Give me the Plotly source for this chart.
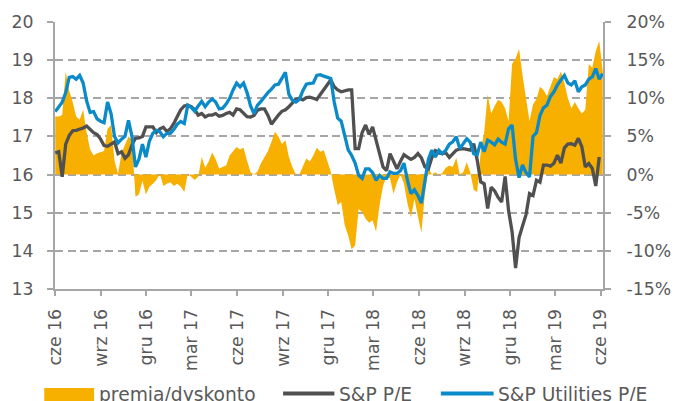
import pandas as pd
import plotly.graph_objects as go

# ---------------- data ----------------
start_date = "2016-06-01"          # weekly observations

sp_pe = [16.57, 16.6, 15.94, 16.8, 17.02, 17.15, 17.16, 17.18, 17.22, 17.27,
         17.18, 17.1, 17.05, 16.93, 16.76, 16.74, 16.8, 16.86, 16.55, 16.6,
         16.43, 16.52, 16.78, 16.95, 16.96, 17.0, 17.25, 17.26, 17.25, 17.1,
         17.2, 17.24, 17.13, 17.2, 17.34, 17.52, 17.7, 17.8, 17.82, 17.78,
         17.7, 17.56, 17.6, 17.51, 17.56, 17.56, 17.6, 17.53, 17.55, 17.6,
         17.63, 17.56, 17.72, 17.7, 17.6, 17.52, 17.51, 17.55, 17.69, 17.72,
         17.72, 17.55, 17.32, 17.45, 17.56, 17.66, 17.7, 17.78, 17.88, 17.97,
         18.0, 17.96, 18.02, 18.03, 18.0, 17.97, 18.1, 18.22, 18.34, 18.48,
         18.3, 18.22, 18.17, 18.2, 18.22, 18.22, 16.68, 16.68, 17.1, 17.3,
         17.05, 17.25, 16.92, 16.55, 16.2, 16.1, 16.55, 16.35, 16.15, 16.35,
         16.52, 16.46, 16.4, 16.45, 16.55, 16.44, 16.2, 16.15, 16.45, 16.63,
         16.57, 16.55, 16.57, 16.45, 16.55, 16.64, 16.67, 16.68, 16.66, 16.64,
         16.81, 16.38, 15.81, 15.76, 15.11, 15.67, 15.57, 15.4, 15.28, 15.95,
         15.05, 14.5, 13.55, 14.35, 14.65, 14.95, 15.5, 15.45, 15.85, 15.8,
         16.25, 16.25, 16.22, 16.3, 16.51, 16.3, 16.7, 16.8, 16.81, 16.77,
         16.95, 16.73, 16.2, 16.29, 16.16, 15.7, 16.46]

utilities_pe = [17.65, 17.76, 17.9, 18.15, 18.55, 18.57, 18.5, 18.6, 18.4, 17.93,
                17.63, 17.65, 17.46, 17.4, 17.36, 17.9, 17.6, 17.0, 16.83, 16.93,
                17.0, 17.42, 17.0, 16.2, 16.4, 16.8, 16.46, 16.88, 17.08, 17.16,
                17.12, 16.99, 17.08, 17.08, 17.18, 17.32, 17.39, 17.34, 17.82, 17.76,
                17.66, 17.8, 17.92, 17.78, 17.9, 17.98, 17.9, 17.72, 17.74, 17.85,
                18.0, 18.22, 18.4, 18.3, 18.4, 18.15, 17.8, 17.6, 17.82, 17.92,
                18.05, 18.15, 18.24, 18.35, 18.37, 18.52, 18.68, 18.1, 17.95, 17.9,
                17.97, 18.2, 18.37, 18.39, 18.4, 18.6, 18.62, 18.58, 18.56, 18.52,
                17.9, 17.48, 17.4, 17.0, 16.65, 16.5, 16.3, 15.98, 15.9, 16.15,
                16.15, 16.05, 15.85, 15.98, 15.9, 15.9, 16.07, 16.03, 16.03, 16.1,
                16.3, 15.85, 15.5, 15.6, 15.45, 15.25, 15.9, 16.4, 16.64, 16.46,
                16.64, 16.55, 16.64, 16.8, 16.86, 16.99, 16.68, 16.81, 16.94, 16.85,
                16.55, 16.52, 16.85, 16.6, 16.9, 16.85, 16.78, 16.93, 16.85, 16.8,
                17.2, 17.3, 16.4, 15.92, 16.25, 16.05, 15.94, 17.0, 17.1, 17.55,
                17.75, 17.82, 18.05, 18.17, 18.35, 18.48, 18.6, 18.4, 18.35, 18.46,
                18.17, 18.3, 18.35, 18.5, 18.56, 18.78, 18.5, 18.65]

premium_pct = [7.6, 7.6, 7.8, 13.5, 11.0, 9.5, 7.6, 7.2, 8.5, 5.5,
               3.3, 2.5, 2.8, 3.0, 3.1, 6.0, 6.5, 1.8, 0.1, 2.8,
               4.0, 5.0, 4.5, -2.9, -2.6, -0.8, -2.6, -1.6, -1.2, -0.7,
               0.1, -1.5, -1.2, -1.0, -1.5, -1.2, -1.6, -2.3, 0.1, -0.3,
               -0.7, -0.3, 2.3, 0.9, 1.7, 2.9, 2.0, 0.8, 1.0, 1.2,
               2.5, 3.1, 3.6, 3.3, 3.5, 1.8, 0.3, 0.0, 0.4, 1.5,
               2.4, 3.1, 4.3, 5.6, 5.0, 4.0, 4.5, 2.3, 1.0, 0.0,
               0.0, 1.0, 2.1, 1.7, 2.5, 3.5, 3.0, 3.2, 1.8, 0.4,
               -2.0, -4.0, -3.6, -6.6, -8.0, -9.8, -9.3, -4.5, -4.9, -5.8,
               -6.3, -6.0, -7.5, -4.0, -1.5, -0.2, -0.5, -2.5, -1.0, 0.0,
               -1.2, -3.8, -5.6, -3.2, -5.5, -7.6, -2.5, 0.9, 0.0, 0.3,
               -0.1, 0.2, 0.9, 1.2, 1.0, 2.2, 0.0, 0.3, 1.6, 0.3,
               -2.0, -2.3, 3.0, 5.5, 10.5, 8.0, 9.0, 9.8, 9.5, 8.7,
               7.0, 14.5, 15.2, 16.5, 13.0, 10.0, 7.0, 9.2, 9.9, 11.5,
               11.1, 10.3, 11.5, 12.8, 12.5, 13.5, 12.0, 10.0, 8.7, 9.5,
               8.7, 8.0, 8.5, 14.5, 14.0, 16.2, 17.5, 13.5]

x_tick_dates = ["2016-06-01", "2016-09-01", "2016-12-01", "2017-03-01", "2017-06-01",
                "2017-09-01", "2017-12-01", "2018-03-01", "2018-06-01", "2018-09-01",
                "2018-12-01", "2019-03-01", "2019-06-01"]
x_tick_labels = ["cze 16", "wrz 16", "gru 16", "mar 17", "cze 17", "wrz 17", "gru 17",
                 "mar 18", "cze 18", "wrz 18", "gru 18", "mar 19", "cze 19"]

left_ticks = [13, 14, 15, 16, 17, 18, 19, 20]
right_ticks = [-15, -10, -5, 0, 5, 10, 15, 20]
right_tick_labels = ["-15%", "-10%", "-5%", "0%", "5%", "10%", "15%", "20%"]

legend_names = ["premia/dyskonto", "S&P P/E", "S&P Utilities P/E"]

# ---------------- figure ----------------
dates = pd.date_range(start_date, periods=len(utilities_pe), freq="7D")

C_ORANGE = "#F8B000"
C_GREY = "#505050"
C_BLUE = "#0A8AC9"
C_AXIS = "#A6A6A6"
C_TEXT = "#595959"
FONT = "DejaVu Sans"

fig = go.Figure()
fig.add_trace(go.Scatter(x=dates[:len(premium_pct)], y=premium_pct, name=legend_names[0],
                         mode="lines", line=dict(width=0, color=C_ORANGE),
                         fill="tozeroy", fillcolor=C_ORANGE, yaxis="y", showlegend=False))
fig.add_trace(go.Scatter(x=dates[:len(sp_pe)], y=sp_pe, name=legend_names[1],
                         mode="lines", line=dict(width=3.3, color=C_GREY),
                         yaxis="y2", showlegend=False))
fig.add_trace(go.Scatter(x=dates[:len(utilities_pe)], y=utilities_pe, name=legend_names[2],
                         mode="lines", line=dict(width=3.3, color=C_BLUE),
                         yaxis="y2", showlegend=False))

tickfont = dict(family=FONT, size=17.3, color=C_TEXT)

fig.update_layout(
    width=683, height=401,
    margin=dict(l=52, r=70, t=22, b=112),
    paper_bgcolor="white", plot_bgcolor="rgba(0,0,0,0)",
    xaxis=dict(type="date", range=["2016-05-31 12:00", "2019-06-05 12:00"],
               tickvals=x_tick_dates, ticktext=x_tick_labels, tickangle=-90,
               tickfont=tickfont, showgrid=False, zeroline=False,
               showline=True, linecolor=C_AXIS, linewidth=2,
               ticks="outside", ticklen=5, tickwidth=2, tickcolor=C_AXIS,
               ticklabelstandoff=6),
    yaxis=dict(side="right", range=[-15, 20], tickvals=right_ticks,
               ticktext=right_tick_labels, tickfont=tickfont,
               showgrid=True, gridcolor=C_AXIS, gridwidth=1.6, griddash="8px,4.6px",
               zeroline=False, showline=True, linecolor=C_AXIS, linewidth=2,
               ticks="outside", ticklen=6, tickwidth=2, tickcolor=C_AXIS,
               ticklabelstandoff=12),
    yaxis2=dict(side="left", overlaying="y", range=[13, 20], tickvals=left_ticks,
                tickfont=tickfont, showgrid=False, zeroline=False,
                showline=True, linecolor=C_AXIS, linewidth=2,
                ticks="outside", ticklen=6, tickwidth=2, tickcolor=C_AXIS,
                ticklabelstandoff=10),
    showlegend=False,
)

# ---------------- legend (drawn below the plot, partly cut by the frame) ----------------
def xp(px):
    return (px - 52) / 561.0

def yp(py):
    return (289 - py) / 267.0

fig.add_shape(type="rect", xref="paper", yref="paper",
              x0=xp(41), x1=xp(92), y0=yp(401), y1=yp(388),
              fillcolor=C_ORANGE, line=dict(width=0))
fig.add_shape(type="line", xref="paper", yref="paper",
              x0=xp(285.5), x1=xp(338), y0=yp(393.5), y1=yp(393.5),
              line=dict(color=C_GREY, width=4))
fig.add_shape(type="line", xref="paper", yref="paper",
              x0=xp(447), x1=xp(501), y0=yp(393.5), y1=yp(393.5),
              line=dict(color=C_BLUE, width=4))
legend_font = dict(family=FONT, size=18.7, color=C_TEXT)
for name, px in zip(legend_names, [98, 344, 506]):
    fig.add_annotation(text=name, xref="paper", yref="paper", x=xp(px - 3), y=yp(394.5),
                       xanchor="left", yanchor="middle", showarrow=False, font=legend_font)

fig.write_html("out.html", config={"displayModeBar": False},
               post_script="document.body.style.margin='0';")
